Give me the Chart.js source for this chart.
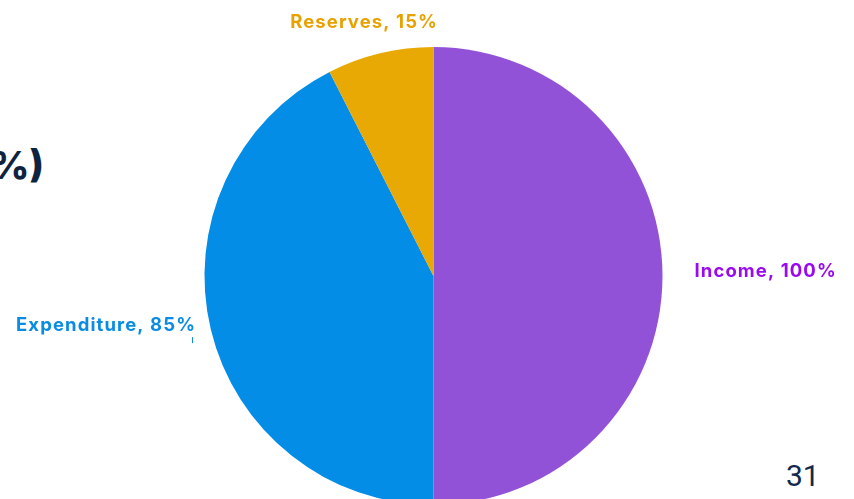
<!DOCTYPE html>
<html>
<head>
<meta charset="utf-8">
<script src="https://cdn.jsdelivr.net/npm/chart.js@4"></script>
<style>
  html, body { margin:0; padding:0; background:#fff; overflow:hidden; width:854px; height:499px; }
  #wrap { position:absolute; left:0; top:0; width:854px; height:510px; }
  #title { position:absolute; right:810px; top:142px; font-family:Inter, sans-serif; font-weight:800; font-size:38px; color:#0E2340; white-space:nowrap; }
  #page { position:absolute; left:786px; top:458px; font-family:Roboto, sans-serif; font-size:30px; color:#14284B; }
</style>
</head>
<body>
<div id="title">(%)</div>
<div id="page">31</div>
<div id="wrap"><canvas id="c"></canvas></div>
<script>
const categories = ["Income", "Expenditure", "Reserves"];
const values = [100, 85, 15];
const percentLabels = ["100%", "85%", "15%"];
const sliceColors = ["#9152D8", "#048DE6", "#E8A905"];
const labelColors = ["#9A0AF0", "#0A8CE3", "#E8A200"];

const labelPlugin = {
  id: 'outLabels',
  afterDraw(chart, args, opts) {
    const ctx = chart.ctx;
    const meta = chart.getDatasetMeta(0);
    meta.data.forEach((arc, i) => {
      const p = opts.place[i];
      const mid = (arc.startAngle + arc.endAngle) / 2;
      const r = arc.outerRadius + p.dist;
      const x = arc.x + Math.cos(mid) * r + p.dx;
      const y = arc.y + Math.sin(mid) * r + p.dy;
      ctx.save();
      ctx.font = "bold 18.5px Inter, sans-serif";
      ctx.letterSpacing = "1.1px";
      ctx.fillStyle = labelColors[i];
      ctx.textAlign = p.align;
      ctx.textBaseline = 'middle';
      ctx.fillText(categories[i] + ", " + percentLabels[i], x, y);
      if (p.tick) {
        ctx.strokeStyle = labelColors[i];
        ctx.lineWidth = 1;
        ctx.beginPath();
        ctx.moveTo(x - 3.5, y + 12);
        ctx.lineTo(x - 3.5, y + 18);
        ctx.stroke();
      }
      ctx.restore();
    });
  }
};

new Chart(document.getElementById('c'), {
  type: 'pie',
  data: {
    labels: categories,
    datasets: [{
      data: values,
      backgroundColor: sliceColors,
      borderWidth: 0
    }]
  },
  options: {
    responsive: true,
    maintainAspectRatio: false,
    animation: false,
    layout: { padding: { left: 204.5, right: 191.5, top: 47, bottom: 5 } },
    plugins: {
      legend: { display: false },
      tooltip: { enabled: false },
      outLabels: {
        place: [
          { dist: 32, dx: 0, dy: -5, align: 'left' },
          { dist: 18, dx: 2.7, dy: -8.5, align: 'right', tick: true },
          { dist: 32, dx: -8.5, dy: 0, align: 'center' }
        ]
      }
    }
  },
  plugins: [labelPlugin]
});
</script>
</body>
</html>
